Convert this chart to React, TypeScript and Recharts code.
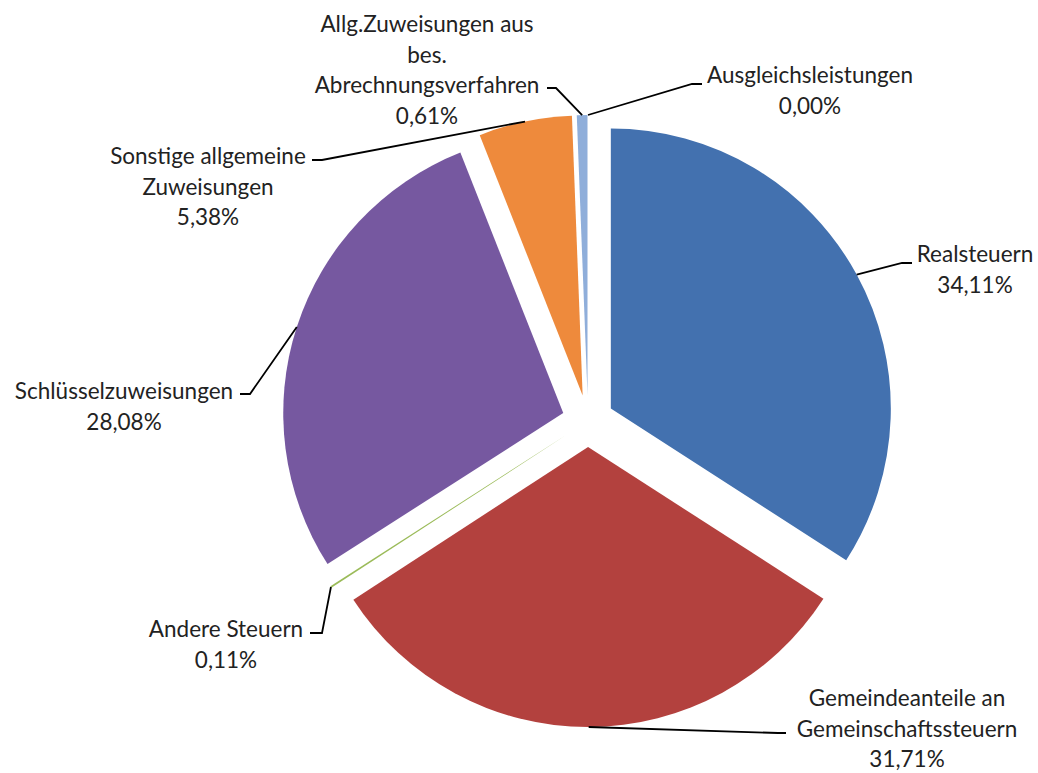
import React from 'react';
import { PieChart, Pie, Cell } from 'recharts';

// categories as Excel wrapped them, clockwise from 12 o'clock
const categoryLines = [
  ['Realsteuern'],
  ['Gemeindeanteile an', 'Gemeinschaftssteuern'],
  ['Andere Steuern'],
  ['Schlüsselzuweisungen'],
  ['Sonstige allgemeine', 'Zuweisungen'],
  ['Allg.Zuweisungen aus', 'bes.', 'Abrechnungsverfahren'],
  ['Ausgleichsleistungen'],
];
const shares = [34.11, 31.71, 0.11, 28.08, 5.38, 0.61, 0.0];
const colors = ['#4371AF', '#B3413E', '#9BBB59', '#7658A0', '#EE8A3C', '#8FAEDA', '#4BACC6'];

const data = categoryLines.map((lines, i) => ({ name: lines.join(' '), value: shares[i] }));

// label placement (text centre x, first baseline, leader elbow + end)
const labelLayout = [
  { x: 975, y: 262, elbow: [902, 263], end: [912, 263] },
  { x: 907, y: 706, elbow: [778, 733], end: [786, 733] },
  { x: 226, y: 637, elbow: [322, 633], end: [310, 633] },
  { x: 124, y: 399, elbow: [250, 394], end: [240, 394] },
  { x: 208, y: 164, elbow: [322, 160], end: [312, 160] },
  { x: 427, y: 32, elbow: [556, 88], end: [547, 88] },
  { x: 810, y: 83, elbow: [692, 84], end: [702, 84] },
];

const W = 1038;
const H = 773;
const CX = 588;
const CY = 421;
const R = 280;
const EXPLODE = 26;
const LINE_H = 30.5;
const RAD = Math.PI / 180;
const FONT = 'Lato, "Open Sans", sans-serif';

const total = shares.reduce((a, b) => a + b, 0);
let acc = 0;
const mids = shares.map((v) => {
  const m = acc + v / 2;
  acc += v;
  return 90 - (360 * m) / total;
});

const fmt = (v: number) => v.toFixed(2).replace('.', ',') + '%';

const renderLabel = (props: any) => {
  const i = props.index;
  const lay = labelLayout[i];
  const mid = props.midAngle ?? mids[i];
  const ax = props.cx + (props.outerRadius + EXPLODE) * Math.cos(-mid * RAD);
  const ay = props.cy + (props.outerRadius + EXPLODE) * Math.sin(-mid * RAD);
  const lines = [...categoryLines[i], fmt(shares[i])];
  return (
    <g key={`lbl-${i}`}>
      <polyline
        points={`${ax},${ay} ${lay.elbow[0]},${lay.elbow[1]} ${lay.end[0]},${lay.end[1]}`}
        fill="none"
        stroke="#000"
        strokeWidth={1.8}
      />
      <text x={lay.x} y={lay.y} textAnchor="middle" fontFamily={FONT} fontSize={22.5} fill="#222">
        {lines.map((t, k) => (
          <tspan key={k} x={lay.x} y={lay.y + k * LINE_H}>
            {t}
          </tspan>
        ))}
      </text>
    </g>
  );
};

export default function App() {
  return (
    <div style={{ position: 'absolute', left: 0, top: 0, width: W, height: H, background: '#fff' }}>
      <PieChart width={W} height={H} margin={{ top: 0, right: 0, bottom: 0, left: 0 }}>
        {shares.map((_, i) => {
          const dx = EXPLODE * Math.cos(mids[i] * RAD);
          const dy = -EXPLODE * Math.sin(mids[i] * RAD);
          return (
            <Pie
              key={`slice-${i}`}
              data={data}
              dataKey="value"
              nameKey="name"
              cx={CX + dx}
              cy={CY + dy}
              outerRadius={R}
              startAngle={90}
              endAngle={-270}
              stroke="none"
              isAnimationActive={false}
            >
              {data.map((_, j) => (
                <Cell key={j} fill={j === i ? colors[i] : 'none'} />
              ))}
            </Pie>
          );
        })}
        <Pie
          data={data}
          dataKey="value"
          nameKey="name"
          cx={CX}
          cy={CY}
          outerRadius={R}
          startAngle={90}
          endAngle={-270}
          fill="none"
          stroke="none"
          label={renderLabel}
          labelLine={false}
          isAnimationActive={false}
        />
      </PieChart>
    </div>
  );
}
